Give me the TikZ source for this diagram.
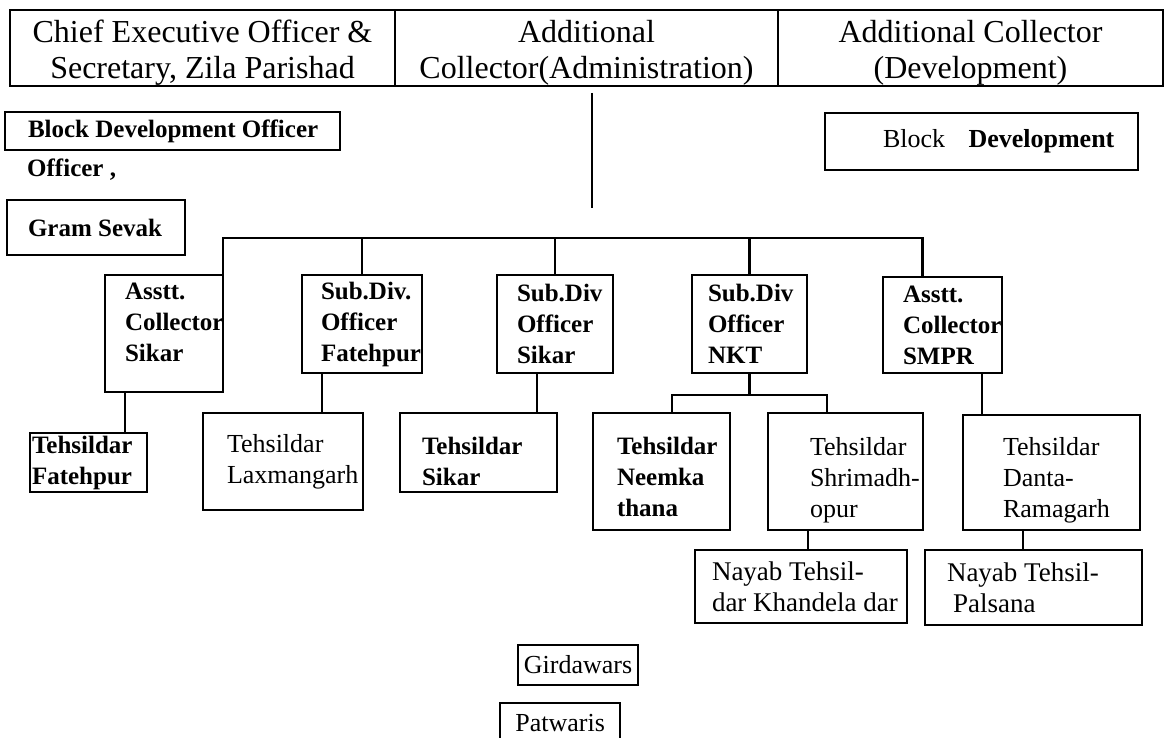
\documentclass[tikz,border=0pt]{standalone}
\usepackage{fontspec}
\setmainfont{Liberation Serif}
\hyphenpenalty=10000
\exhyphenpenalty=10000

\begin{document}
\begin{tikzpicture}[x=1pt,y=1pt,yscale=-1,xscale=1,
		post/.style={draw, line width=2.4pt, outer sep=0pt, anchor=north west, align=flush left, inner ysep=0pt},
		toprow/.style={draw, line width=2pt, outer sep=0pt, anchor=north west, align=flush center, inner sep=0pt, minimum height=76pt, text height=69pt, text depth=7pt, font=\fontsize{32}{36}\selectfont},
		bold text/.style={font=\fontsize{25}{31}\selectfont\bfseries},
		plain text/.style={font=\fontsize{26}{31}\selectfont},
		nayab text/.style={font=\fontsize{27}{31}\selectfont},
		link/.style={line width=2.8pt}]
		\useasboundingbox (0,0) rectangle (1168,738);
		
		% top row
		\node [toprow, minimum width=385pt] (ceo) at (10,10) {Chief Executive Officer \&\\Secretary, Zila Parishad};
		\node [toprow, minimum width=383pt] (adm) at (395,10) {Additional\\Collector(Administration)};
		\node [toprow, minimum width=385pt] (dev) at (778,10) {Additional Collector\\(Development)};
		
		\node [post, bold text, minimum width=335pt, minimum height=38pt, inner xsep=23pt, text width=289pt] (bdo) at (5,112) {\mbox{Block Development Officer}};
		\node [bold text, anchor=west, inner sep=0pt] (bdotail) at (27,170) {Officer ,};
		\node [post, bold text, minimum width=178pt, minimum height=55pt, inner xsep=21pt, text width=136pt] (gram) at (7,200) {\mbox{Gram Sevak}};
		\node [post, plain text, minimum width=313pt, minimum height=57pt, inner xsep=58pt, text width=197pt] (bdr) at (825,113) {\mbox{Block\hspace{0.9em}\textbf{Development}}};
		
		% sub divisions
		\node [post, bold text, minimum width=118pt, minimum height=117pt, inner xsep=20pt, text width=78pt, text depth=85pt] (acs) at (105,275) {Asstt.\\Collector\\Sikar};
		\node [post, bold text, minimum width=120pt, minimum height=98pt, inner xsep=19pt, text width=82pt] (sdf) at (302,275) {Sub.Div.\\Officer\\Fatehpur};
		\node [post, bold text, minimum width=116pt, minimum height=98pt, inner xsep=20pt, text width=76pt] (sds) at (497,275) {Sub.Div\\Officer\\Sikar};
		\node [post, bold text, minimum width=115pt, minimum height=98pt, inner xsep=16pt, text width=83pt] (sdn) at (692,275) {Sub.Div\\Officer\\NKT};
		\node [post, bold text, minimum width=119pt, minimum height=96pt, inner xsep=20pt, text width=79pt] (smpr) at (883,277) {Asstt.\\Collector\\SMPR};
		
		% tehsils
		\node [post, bold text, minimum width=117pt, minimum height=59pt, inner xsep=2pt, text width=113pt] (tf) at (30,433) {Tehsildar\\Fatehpur};
		\node [post, plain text, minimum width=160pt, minimum height=97pt, inner xsep=24pt, text width=112pt] (tl) at (203,413) {Tehsildar\\Laxmangarh};
		\node [post, bold text, minimum width=157pt, minimum height=79pt, inner xsep=22pt, text width=113pt, text height=36pt] (ts) at (400,413) {Tehsildar\\Sikar};
		\node [post, bold text, minimum width=137pt, minimum height=117pt, inner xsep=24pt, text width=89pt, text height=29pt] (tn) at (593,413) {Tehsildar\\Neemka\\thana};
		\node [post, plain text, minimum width=155pt, minimum height=117pt, inner xsep=42pt, text width=71pt, text height=35pt] (tsh) at (768,413) {Tehsildar\\Shrimadh-\\opur};
		\node [post, plain text, minimum width=177pt, minimum height=115pt, inner xsep=40pt, text width=97pt, text height=33pt] (tdr) at (963,415) {Tehsildar\\Danta-\\Ramagarh};
		
		\node [post, nayab text, minimum width=212pt, minimum height=73pt, inner xsep=17pt, text width=178pt] (nk) at (695,550) {\mbox{Nayab Tehsil-}\\\mbox{dar Khandela dar}};
		\node [post, nayab text, minimum width=217pt, minimum height=75pt, inner xsep=22pt, text width=173pt] (pal) at (925,550) {\mbox{Nayab Tehsil-}\\\hspace*{6pt}Palsana};
		
		\node [draw, line width=2pt, plain text, inner sep=0pt, minimum width=120pt, minimum height=40pt] (gird) at (578,665) {Girdawars};
		\node [plain text, inner sep=0pt, anchor=north west, minimum width=120pt, minimum height=40pt] (patw) at (500,703) {Patwaris};
		\draw [line width=2pt] (patw.south west) -- (patw.north west) -- (patw.north east) -- (patw.south east);
		
		% connectors
		\coordinate (admtop) at ([xshift=5.5pt,yshift=7pt]adm.south);
		\coordinate (admend) at ([yshift=115pt]admtop);
		\draw [link] (admtop) -- (admend);
		
		\coordinate (bar) at (0,238);
		\coordinate (smprin) at ([xshift=-20pt]smpr.north);
		\draw [link] (acs.north east) |- (smprin |- bar) -- (smprin);
		\foreach \n in {sdf,sds,sdn}
			\draw [link] (\n.north) -- (\n.north |- bar);
		
		\coordinate (acsout) at ([xshift=20pt]acs.south west);
		\draw [link] (acsout) -- (acsout |- tf.north);
		\coordinate (sdfout) at ([xshift=20pt]sdf.south west);
		\draw [link] (sdfout) -- (sdfout |- tl.north);
		\coordinate (sdsout) at ([xshift=40pt]sds.south west);
		\draw [link] (sdsout) -- (sdsout |- ts.north);
		
		\coordinate (nktbar) at ([yshift=22pt]sdn.south);
		\coordinate (tnin) at ([xshift=79pt]tn.north west);
		\coordinate (tshin) at ([xshift=59pt]tsh.north west);
		\draw [link] (sdn.south) -- (nktbar);
		\draw [link] (tnin) |- (tshin |- nktbar) -- (tshin);
		
		\coordinate (smprout) at ([xshift=-20pt]smpr.south east);
		\draw [link] (smprout) -- (smprout |- tdr.north);
		\coordinate (tshout) at ([xshift=40pt]tsh.south west);
		\draw [link] (tshout) -- (tshout |- nk.north);
		\coordinate (tdrout) at ([xshift=60pt]tdr.south west);
		\draw [link] (tdrout) -- (tdrout |- pal.north);
		
	\end{tikzpicture}
\end{document}
